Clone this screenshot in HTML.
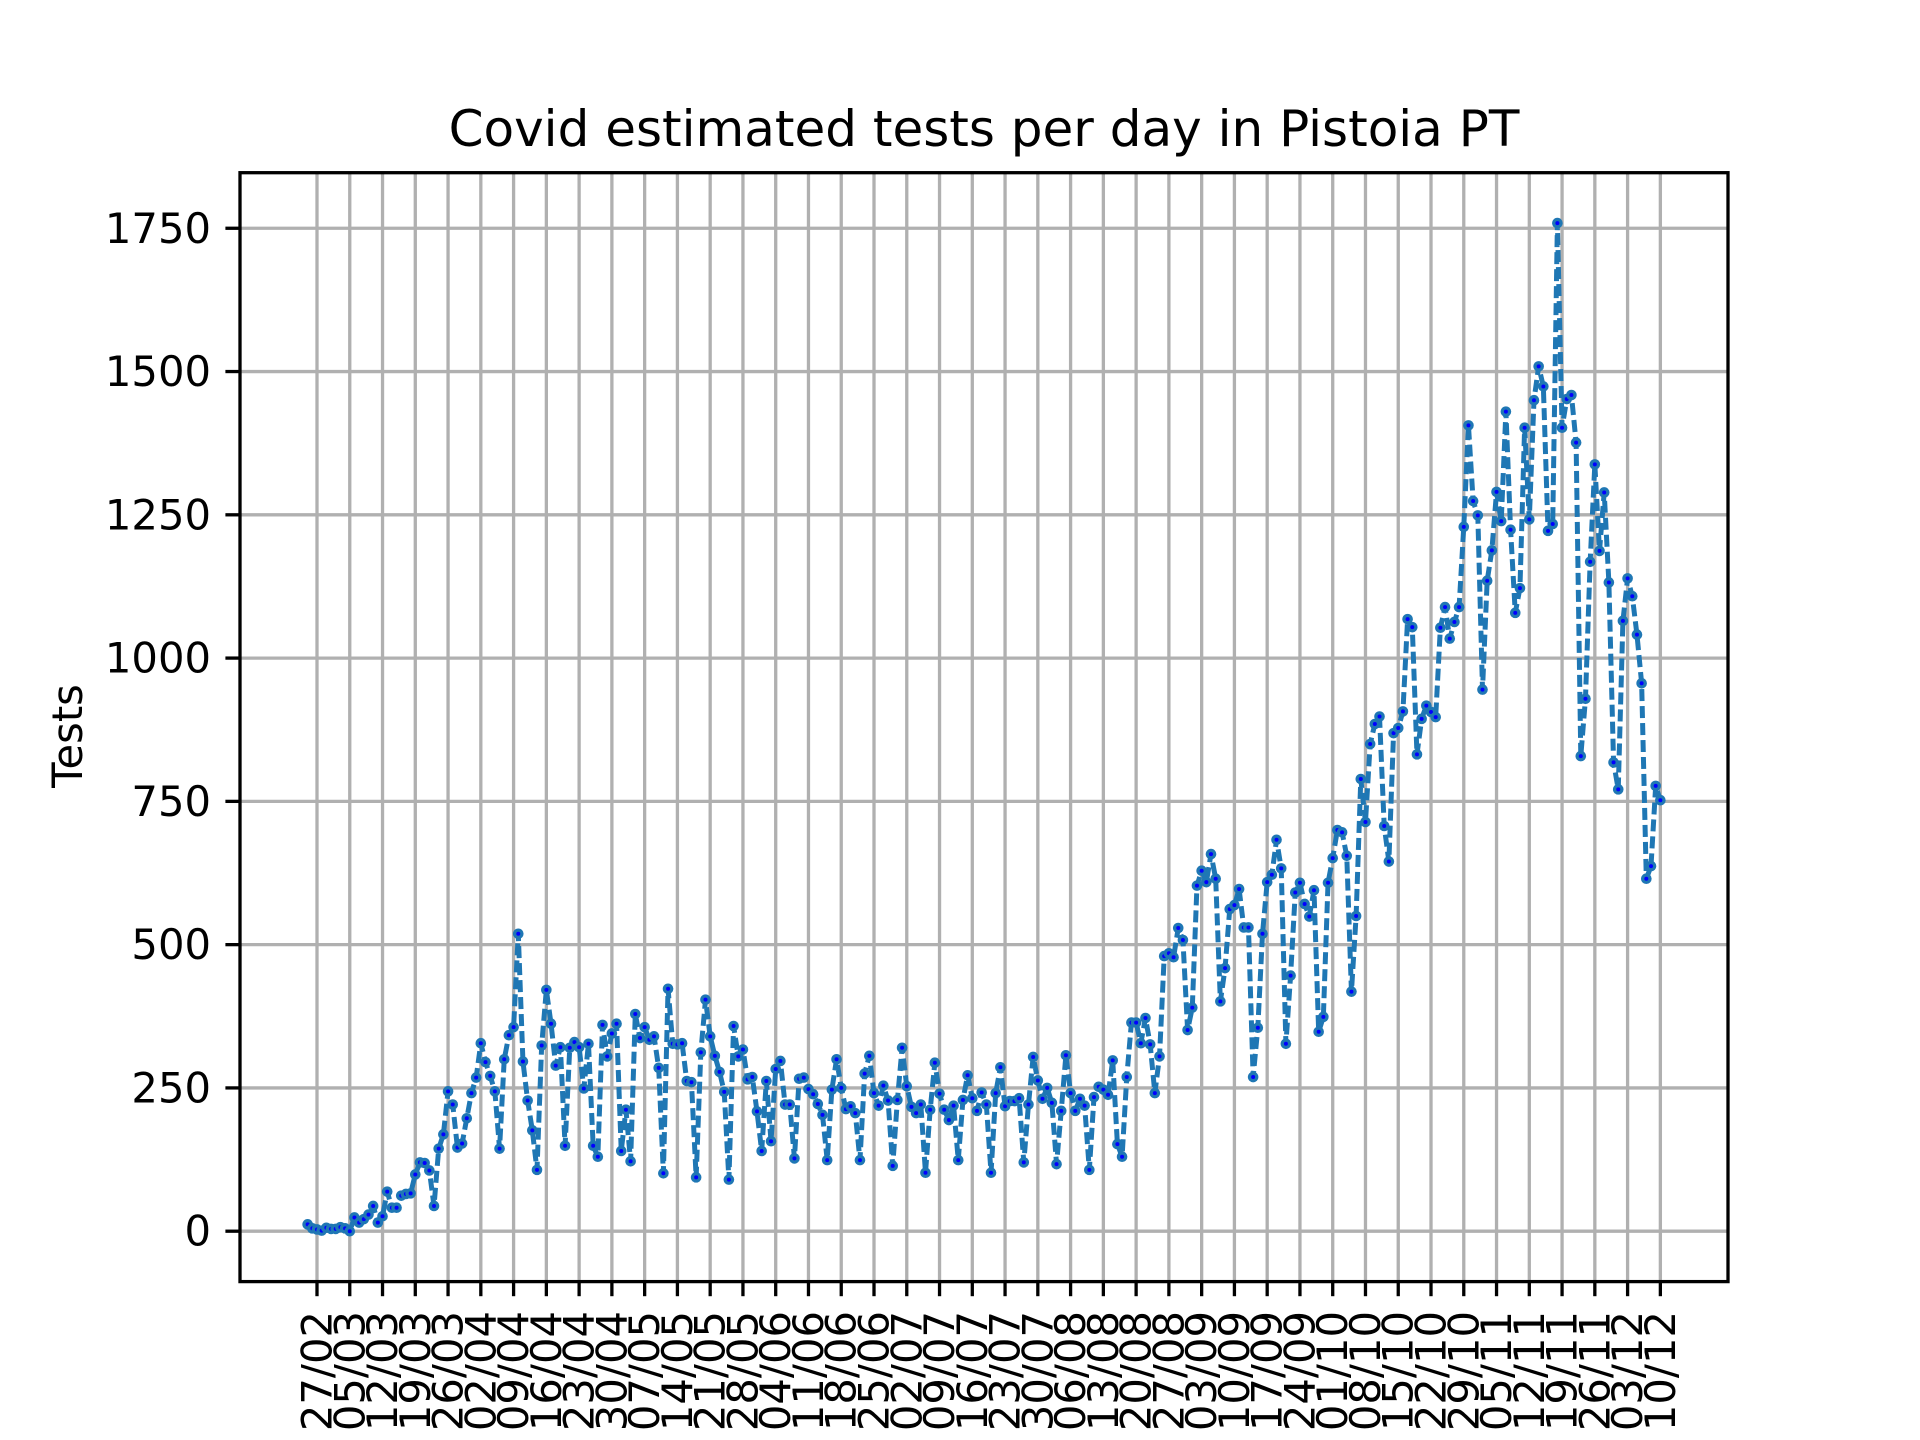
<!DOCTYPE html>
<html><head><meta charset="utf-8"><style>
html,body{margin:0;padding:0;background:#fff;}
svg{display:block;font-family:"DejaVu Sans","Liberation Sans",sans-serif;}
</style></head><body>
<svg id="chart" width="1920" height="1440" viewBox="0 0 1920 1440" xmlns="http://www.w3.org/2000/svg">
<rect width="1920" height="1440" fill="#fff"/>
<text x="984" y="146" font-size="50" text-anchor="middle" fill="#000">Covid estimated tests per day in Pistoia PT</text>
<text x="0" y="0" font-size="41.7" text-anchor="middle" fill="#000" transform="translate(82,736) rotate(-90)">Tests</text>
<g id="grid"></g>
<g id="series"></g>
<g id="axes"></g>
</svg>
<script>
const values = [12,5,3,1,6,4,4,7,5,0,
24,15,21,29,44,15,26,69,41,41,62,65,66,99,120,119,106,44,144,169,244,221,146,153,197,241,268,328,295,271,244,144,300,342,356,519,296,228,176,107,324,421,362,289,
321,149,320,330,321,249,327,149,130,360,305,345,362,140,212,122,379,337,356,334,340,285,101,423,327,326,328,262,260,94,312,404,340,306,278,243,90,358,305,317,265,269,209,140,262,157,283,297,221,221,127,266,
268,248,239,222,203,124,247,300,250,213,218,206,124,275,306,241,219,254,228,114,229,320,253,217,206,221,102,212,294,240,212,194,219,124,229,272,232,210,242,221,102,241,286,218,227,227,232,120,221,304,263,231,250,224,117,210,307,241,210,231,219,107,234,252,247,238,298,152,130,269,364,364,328,372,326,241,305,
480,485,478,529,508,351,390,603,629,609,658,615,401,459,562,569,597,530,530,269,355,519,609,622,683,633,327,446,591,608,571,549,595,348,374,608,651,700,696,655,418,550,789,714,850,885,898,707,645,869,878,907,1068,1054,832,894,917,906,897,1053,1089,1034,1063,1089,1229,1406,1274,1249,945,1135,1188,1290,1239,1430,1224,1079,1122,
1402,1242,1450,1509,1474,1222,1234,1759,1402,1452,1459,1376,829,929,1168,1338,1187,1289,1132,818,771,1065,1139,1108,1041,956,615,637,777,752];
const xTickLabels = ["27/02","05/03","12/03","19/03","26/03","02/04","09/04","16/04","23/04","30/04","07/05","14/05","21/05","28/05","04/06","11/06","18/06","25/06","02/07","09/07","16/07","23/07","30/07","06/08","13/08","20/08","27/08","03/09","10/09","17/09","24/09","01/10","08/10","15/10","22/10","29/10","05/11","12/11","19/11","26/11","03/12","10/12"];
const xTickDays = [2,9,16,23,30,37,44,51,58,65,72,79,86,93,100,107,114,121,128,135,142,149,156,163,170,177,184,191,198,205,212,219,226,233,240,247,254,261,268,275,282,289];
const yTicks = [0,250,500,750,1000,1250,1500,1750];

const NS = "http://www.w3.org/2000/svg";
const L = 240, R = 1728, T = 172.7, B = 1281.6;
const xmin = -14.45, xmax = 303.45, ymin = -87.95, ymax = 1846.95;
function xs(d){ return L + (d - xmin) / (xmax - xmin) * (R - L); }
function ys(v){ return B - (v - ymin) / (ymax - ymin) * (B - T); }
function mk(tag, attrs, parent){ const e = document.createElementNS(NS, tag); for (const k in attrs) e.setAttribute(k, attrs[k]); parent.appendChild(e); return e; }

const grid = document.getElementById('grid');
const axes = document.getElementById('axes');
const series = document.getElementById('series');

xTickDays.forEach((d, i) => {
  const x = xs(d);
  const g = mk('line', {x1:x, x2:x, y1:T, y2:B, stroke:'#b0b0b0', 'stroke-width':3.3}, grid);
  
  
  const t = mk('line', {x1:x, x2:x, y1:B, y2:B+14.6, stroke:'#000', 'stroke-width':3.3}, axes);
  
  
  const lbl = mk('text', {x:0, y:0, 'font-size':41.7, 'text-anchor':'end', 'dominant-baseline':'central', fill:'#000', transform:`translate(${x},1311) rotate(-90)`}, axes);
  lbl.textContent = xTickLabels[i];
  
  
});
yTicks.forEach(v => {
  const y = ys(v);
  const g = mk('line', {x1:L, x2:R, y1:y, y2:y, stroke:'#b0b0b0', 'stroke-width':3.3}, grid);
  
  
  const t = mk('line', {x1:L-14.6, x2:L, y1:y, y2:y, stroke:'#000', 'stroke-width':3.3}, axes);
  
  
  const lbl = mk('text', {x:L-29, y:y, 'font-size':41.7, 'text-anchor':'end', 'dominant-baseline':'central', fill:'#000'}, axes);
  lbl.textContent = String(v);
  
  
});
const frame = mk('rect', {x:L, y:T, width:R-L, height:B-T, fill:'none', stroke:'#000', 'stroke-width':3.3}, axes);



const pts = values.map((v, i) => xs(i).toFixed(2) + ',' + ys(v).toFixed(2)).join(' ');
const line = mk('polyline', {points:pts, fill:'none', stroke:'#1f77b4', 'stroke-width':5, 'stroke-dasharray':'12,5', 'stroke-linejoin':'round'}, series);


values.forEach((v, i) => {
  const c = mk('circle', {cx:xs(i), cy:ys(v), r:5.3, fill:'#1f77b4'}, series);
  
  
  const d = mk('circle', {cx:xs(i), cy:ys(v), r:2, fill:'#0000ff'}, series);
  
  
});
</script>
</body></html>
